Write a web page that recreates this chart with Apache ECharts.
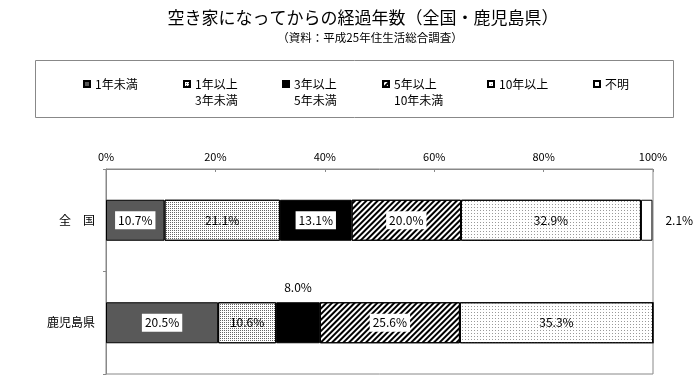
<!DOCTYPE html>
<html><head><meta charset="utf-8">
<script src="https://cdn.jsdelivr.net/npm/echarts@6/dist/echarts.min.js"></script>
<style>html,body{margin:0;padding:0;background:#fff}#c{width:700px;height:386px}</style>
</head><body><div id="c"></div>
<script>
const titleText = '空き家になってからの経過年数（全国・鹿児島県）';
const subtitleText = '（資料：平成25年住生活総合調査）';
const categories = ['全　国', '鹿児島県'];
const seriesNames = ['1年未満', '1年以上3年未満', '3年以上5年未満', '5年以上10年未満', '10年以上', '不明'];
const legendLine1 = ['1年未満', '1年以上', '3年以上', '5年以上', '10年以上', '不明'];
const legendLine2 = ['', '3年未満', '5年未満', '10年未満', '', ''];
const lt1 = [10.7, 20.5];
const y1to3 = [21.1, 10.6];
const y3to5 = [13.1, 8.0];
const y5to10 = [20.0, 25.6];
const y10plus = [32.9, 35.3];
const unknown = [2.1, 0];
const xTicks = [0, 20, 40, 60, 80, 100];

const values = [lt1, y1to3, y3to5, y5to10, y10plus, unknown];
const font = '"Noto Sans CJK JP", "Noto Sans", sans-serif';

const styles = [
  {color: '#595959'},
  {color: '#ffffff', decal: {symbol: 'rect', symbolSize: 1, dashArrayX: [1, 1], dashArrayY: [1, 1], color: '#666'}},
  {color: '#000000'},
  {color: '#ffffff', decal: {symbol: 'rect', symbolSize: 1, dashArrayX: [1, 0], dashArrayY: [2, 2], rotation: -Math.PI / 4, color: '#000'}},
  {color: '#ffffff', decal: {symbol: 'rect', symbolSize: 1, dashArrayX: [1, 2], dashArrayY: [1, 2], color: '#999'}},
  {color: '#ffffff'}
];
const boxed = [true, false, true, true, false, false];

const series = seriesNames.map((name, si) => ({
  name: name,
  type: 'bar',
  stack: 'total',
  barWidth: 41,
  itemStyle: Object.assign({borderColor: '#000', borderWidth: 1}, styles[si]),
  emphasis: {disabled: true},
  label: {
    show: true,
    position: si === 5 ? 'right' : 'inside',
    distance: 10,
    fontFamily: font,
    fontSize: 12,
    color: '#000',
    backgroundColor: boxed[si] ? '#fff' : 'transparent',
    padding: [3, 3],
    formatter: p => p.value > 0 ? p.value.toFixed(1) + '%' : ''
  },
  data: values[si].map(v => (si < 5 && v < 9) ? {
    value: v,
    label: {position: 'top', distance: 6, backgroundColor: 'transparent'}
  } : v)
}));

const legendX = [83, 183, 282, 382, 487, 593];
const legends = seriesNames.map((name, i) => ({
  data: [name],
  left: legendX[i],
  top: 60,
  padding: 0,
  orient: 'horizontal',
  icon: 'rect',
  itemWidth: 6,
  itemHeight: 6,
  selectedMode: false,
  textStyle: {fontFamily: font, fontSize: 12, lineHeight: 16, color: '#000'},
  formatter: () => '\n' + legendLine1[i] + '\n' + (legendLine2[i] || ' ')
}));

const chart = echarts.init(document.getElementById('c'), null, {renderer: 'canvas'});
chart.setOption({
  animation: false,
  backgroundColor: '#fff',
  graphic: [
    {type: 'text', x: 363, y: 18, style: {text: titleText, font: '17px ' + font, fill: '#000', align: 'center', verticalAlign: 'middle'}},
    {type: 'text', x: 370, y: 38, style: {text: subtitleText, font: '11.5px ' + font, fill: '#000', align: 'center', verticalAlign: 'middle'}},
    {type: 'rect', shape: {x: 35.5, y: 60.5, width: 638, height: 57}, style: {fill: 'none', stroke: '#888', lineWidth: 1}, z: -1}
  ],
  legend: legends,
  grid: {left: 106, right: 47, top: 169, bottom: 12, show: true, borderColor: '#888', borderWidth: 1, outerBoundsMode: 'none'},
  xAxis: {
    type: 'value', position: 'top', min: xTicks[0], max: xTicks[xTicks.length - 1], interval: 20,
    axisLine: {show: true, lineStyle: {color: '#888'}},
    axisTick: {show: true, inside: true, length: 3, lineStyle: {color: '#888'}},
    splitLine: {show: false},
    axisLabel: {margin: 7, fontFamily: font, fontSize: 11, color: '#000', formatter: '{value}%'}
  },
  yAxis: {
    type: 'category', inverse: true, data: categories,
    axisLine: {show: true, lineStyle: {color: '#888'}},
    axisTick: {show: true, length: 3, lineStyle: {color: '#888'}},
    axisLabel: {margin: 11, fontFamily: font, fontSize: 12, color: '#000'}
  },
  series: series
});
</script></body></html>
